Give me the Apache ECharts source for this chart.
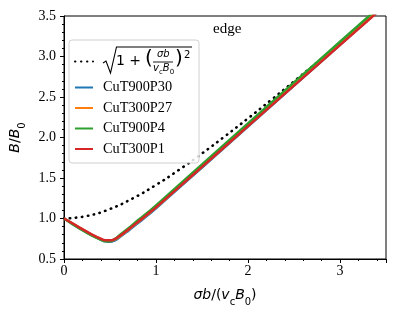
<!DOCTYPE html>
<html><head><meta charset="utf-8">
<script src="https://cdn.jsdelivr.net/npm/echarts@6/dist/echarts.min.js"></script>
<style>html,body{margin:0;padding:0;background:#fff}#c{width:397px;height:315px}</style>
</head><body><div id="c"></div>
<script>
var xTicks = [0, 1, 2, 3];
var yTicks = [0.5, 1.0, 1.5, 2.0, 2.5, 3.0, 3.5];
var seriesNames = ['CuT900P30', 'CuT300P27', 'CuT900P4', 'CuT300P1'];
var seriesColors = ['#1f77b4', '#ff7f0e', '#2ca02c', '#d62728'];
var refX = [0, 0.25, 0.5, 0.75, 1.0, 1.25, 1.5, 1.75, 2.0, 2.25, 2.5, 2.75, 3.0, 3.25, 3.5];
var refY = [1.0, 1.031, 1.118, 1.25, 1.414, 1.601, 1.803, 2.016, 2.236, 2.462, 2.693, 2.926, 3.162, 3.4, 3.64];
var curveX = [0, 0.1, 0.2, 0.3, 0.4, 0.45, 0.5, 0.55, 0.6, 0.7, 0.8, 0.9, 1.0, 1.25, 1.5, 2.0, 2.5, 3.0, 3.5];
var blueY   = [1.0, 0.93, 0.86, 0.795, 0.74, 0.718, 0.712, 0.728, 0.765, 0.85, 0.94, 1.03, 1.125, 1.38, 1.63, 2.135, 2.64, 3.145, 3.65];
var orangeY = [1.0, 0.933, 0.865, 0.8, 0.745, 0.725, 0.722, 0.738, 0.775, 0.862, 0.952, 1.042, 1.137, 1.39, 1.64, 2.145, 2.65, 3.15, 3.655];
var greenY  = [1.0, 0.925, 0.855, 0.79, 0.738, 0.72, 0.72, 0.745, 0.79, 0.88, 0.975, 1.065, 1.16, 1.415, 1.668, 2.175, 2.68, 3.182, 3.685];
var redY    = [1.0, 0.935, 0.868, 0.805, 0.75, 0.732, 0.73, 0.745, 0.78, 0.865, 0.955, 1.045, 1.138, 1.388, 1.638, 2.14, 2.64, 3.14, 3.64];
var curvesY = [blueY, orangeY, greenY, redY];

function pairs(xs, ys) { return xs.map(function (x, i) { return [x, ys[i]]; }); }

var chart = echarts.init(document.getElementById('c'), null, {renderer: 'canvas'});
var serif = 'Liberation Serif';
var sans = 'DejaVu Sans';

var series = [{
  name: 'sqrt', type: 'line', data: pairs(refX, refY), smooth: true, symbol: 'none',
  lineStyle: {color: '#000', width: 2.6, type: [0.4, 5.6], cap: 'round'}, itemStyle: {color: '#000'}, z: 2
}];
seriesNames.forEach(function (n, i) {
  series.push({
    name: n, type: 'line', data: pairs(curveX, curvesY[i]), smooth: true, symbol: 'none',
    lineStyle: {color: seriesColors[i], width: 2.5}, itemStyle: {color: seriesColors[i]}, z: 3 + i
  });
});

var option = {
  animation: false,
  title: {text: 'edge', left: 208, top: 17, textStyle: {fontFamily: serif, fontSize: 15, fontWeight: 'normal', color: '#000'}},
  grid: {left: 62, right: 11, top: 16, bottom: 56, show: true, borderColor: '#000', borderWidth: 1},
  xAxis: {
    type: 'value', min: 0, max: 3.5, interval: 1,
    name: '{i|σb}{n|/(}{i|v}{s|c}{i|B}{s|0}{n|)}', nameLocation: 'middle', nameGap: 27,
    nameTextStyle: {fontFamily: sans, fontSize: 14, color: '#000', rich: {
      i: {fontFamily: sans, fontSize: 14, fontStyle: 'italic', lineHeight: 18},
      n: {fontFamily: sans, fontSize: 14, lineHeight: 18},
      s: {fontFamily: sans, fontSize: 10, lineHeight: 18, verticalAlign: 'bottom', padding: [0, 0, -3, 0]}
    }},
    axisLine: {lineStyle: {color: '#000', width: 1}},
    axisTick: {show: true, length: 4, lineStyle: {color: '#000'}},
    minorTick: {show: true, splitNumber: 5, length: 2, lineStyle: {color: '#000'}},
    splitLine: {show: false},
    axisLabel: {fontFamily: serif, fontSize: 14, color: '#000', margin: 5, showMaxLabel: false,
      formatter: function (v) { return xTicks.indexOf(v) >= 0 ? String(v) : ''; }}
  },
  yAxis: {
    type: 'value', min: 0.5, max: 3.5, interval: 0.5,
    name: '{i|B}{n|/}{i|B}{s|0}', nameLocation: 'middle', nameGap: 40,
    nameTextStyle: {fontFamily: sans, fontSize: 14, color: '#000', rich: {
      i: {fontFamily: sans, fontSize: 14, fontStyle: 'italic', lineHeight: 18},
      n: {fontFamily: sans, fontSize: 14, lineHeight: 18},
      s: {fontFamily: sans, fontSize: 10, lineHeight: 18, verticalAlign: 'bottom', padding: [0, 0, -3, 0]}
    }},
    axisLine: {show: true, lineStyle: {color: '#000', width: 1}},
    axisTick: {show: true, length: 4, lineStyle: {color: '#000'}},
    minorTick: {show: true, splitNumber: 5, length: 2, lineStyle: {color: '#000'}},
    splitLine: {show: false},
    axisLabel: {fontFamily: serif, fontSize: 14, color: '#000', margin: 8,
      formatter: function (v) { return yTicks.indexOf(v) >= 0 ? v.toFixed(1) : ''; }}
  },
  legend: {
    orient: 'vertical', left: 69, top: 40, padding: [9, 8, 7, 5],
    itemWidth: 18, itemHeight: 14, itemGap: 6.5,
    borderColor: '#d0d0d0', borderWidth: 1, borderRadius: 3, backgroundColor: 'rgba(255,255,255,0.85)',
    itemStyle: {color: 'rgba(0,0,0,0)', borderWidth: 0, opacity: 0},
    data: ['sqrt'].concat(seriesNames),
    formatter: function (name) { return name === 'sqrt' ? '{f| }' : name; },
    textStyle: {fontFamily: serif, fontSize: 14.3, color: '#000', padding: [0, 0, 0, 5],
      rich: {f: {width: 88, height: 25, lineHeight: 25}}}
  },
  graphic: [
    {type: 'polyline', z: 200, shape: {points: [[103, 63], [106, 61], [110.5, 73], [116.5, 47], [192, 47]]},
      style: {stroke: '#000', lineWidth: 1.1, fill: null}},
    {type: 'text', z: 200, left: 116, top: 54, style: {text: '1 +', font: '14px "DejaVu Sans"', fill: '#000'}},
    {type: 'text', z: 200, left: 145, top: 49, style: {text: '(', font: '20px "DejaVu Sans"', fill: '#000'}},
    {type: 'text', z: 200, left: 157, top: 49, style: {text: 'σb', font: 'italic 10px "DejaVu Sans"', fill: '#000'}},
    {type: 'line', z: 200, shape: {x1: 153, y1: 62, x2: 173, y2: 62}, style: {stroke: '#000', lineWidth: 0.9}},
    {type: 'text', z: 200, left: 153, top: 63, style: {
      text: '{i|v}{s|c}{i|B}{s|0}', fill: '#000',
      rich: {i: {font: 'italic 10px "DejaVu Sans"', lineHeight: 12}, s: {font: '7px "DejaVu Sans"', lineHeight: 12, verticalAlign: 'bottom', padding: [0, 0, -2, 0]}}}},
    {type: 'text', z: 200, left: 175, top: 49, style: {text: ')', font: '20px "DejaVu Sans"', fill: '#000'}},
    {type: 'text', z: 200, left: 184, top: 50, style: {text: '2', font: '10px "DejaVu Sans"', fill: '#000'}}
  ],
  series: series
};
chart.setOption(option);
</script></body></html>
